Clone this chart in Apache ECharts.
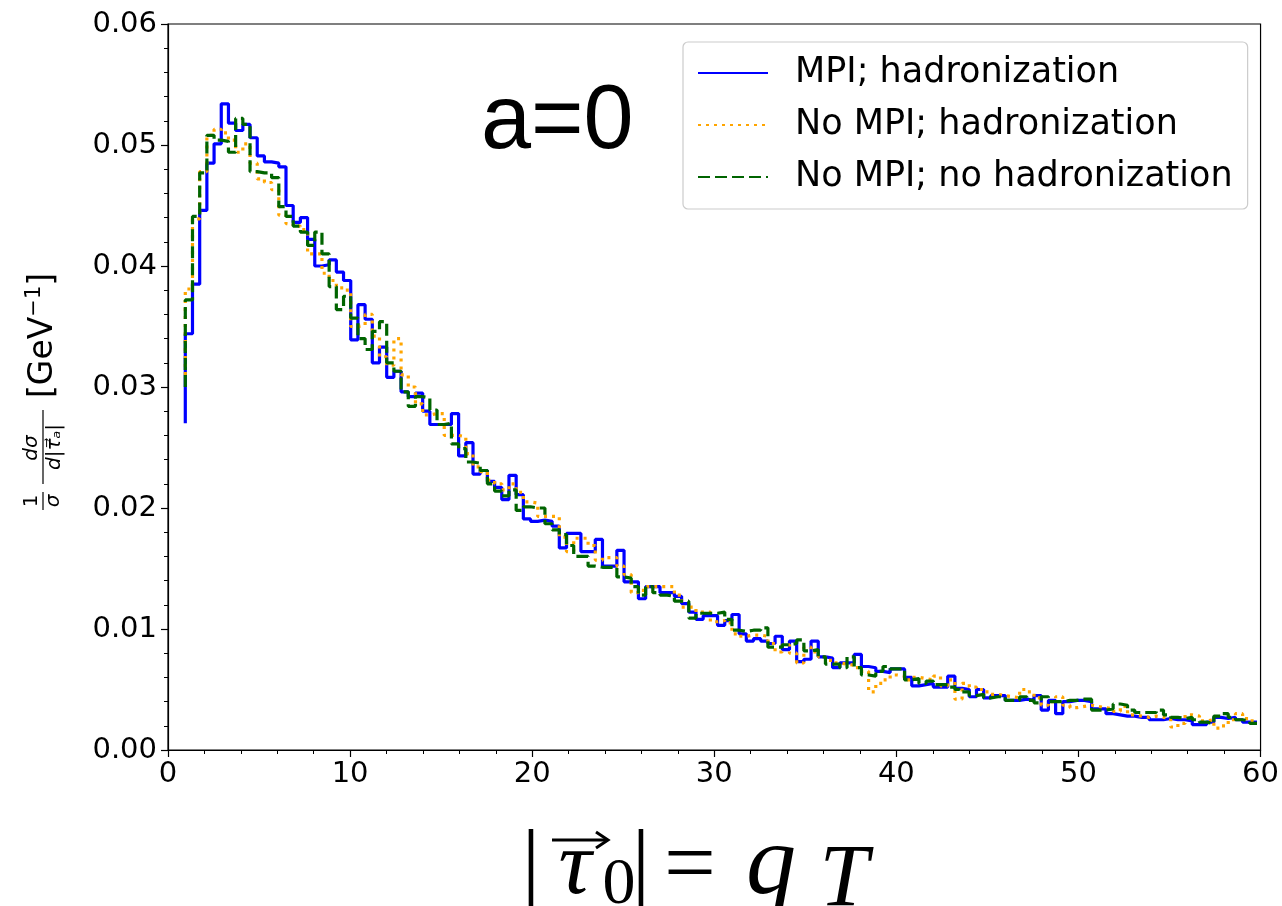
<!DOCTYPE html>
<html>
<head>
<meta charset="utf-8">
<script src="https://cdn.jsdelivr.net/npm/echarts@6/dist/echarts.min.js"></script>
<style>html,body{margin:0;padding:0;background:#fff}#c{width:1282px;height:906px}</style>
</head>
<body>
<div id="c"></div>
<script>
// histogram step positions: first edge and bin width (x in |tau_0| = q_T)
const xStart = 0.95;
const binWidth = 0.395;

const seriesNames = ['MPI; hadronization', 'No MPI; hadronization', 'No MPI; no hadronization'];

const mpiHad = [
0.0270,0.0344,0.0385,0.0446,0.0485,0.0501,0.0534,0.0518,0.0512,0.0517,
0.0506,0.0491,0.0486,0.0485,0.0482,0.0450,0.0436,0.0440,0.0422,0.0400,
0.0401,0.0405,0.0395,0.0388,0.0339,0.0368,0.0356,0.0320,0.0333,0.0308,
0.0313,0.0296,0.0292,0.0295,0.0280,0.0269,0.0269,0.0269,0.0278,0.0243,
0.0254,0.0228,0.0231,0.0222,0.0217,0.0207,0.0227,0.0211,0.0191,0.0189,
0.0190,0.0189,0.0185,0.0167,0.0179,0.0179,0.0164,0.0164,0.0174,0.0152,
0.0152,0.0165,0.0139,0.0139,0.0125,0.0135,0.0135,0.0130,0.0130,0.0127,
0.0121,0.0114,0.0108,0.0111,0.0111,0.0103,0.0107,0.0112,0.0096,0.0090,
0.0092,0.0090,0.0088,0.0094,0.0083,0.0090,0.0073,0.0075,0.0090,0.0077,
0.0076,0.0068,0.0072,0.0072,0.0079,0.0069,0.0068,0.0065,0.0064,0.0067,
0.0067,0.0060,0.0053,0.0054,0.0055,0.0052,0.0052,0.0061,0.0051,0.0050,
0.0044,0.0050,0.0043,0.0045,0.0045,0.0041,0.0041,0.0042,0.0041,0.0045,
0.0033,0.0041,0.0030,0.0040,0.0041,0.0041,0.0040,0.0034,0.0034,0.0030,
0.0029,0.0028,0.0028,0.0027,0.0027,0.0025,0.0025,0.0026,0.0025,0.0025,
0.0024,0.0021,0.0021,0.0023,0.0027,0.0026,0.0027,0.0025,0.0023,0.0023
];

const noMpiHad = [
0.0310,0.0381,0.0439,0.0478,0.0508,0.0513,0.0510,0.0504,0.0494,0.0501,
0.0485,0.0472,0.0469,0.0463,0.0442,0.0435,0.0433,0.0430,0.0410,0.0410,
0.0394,0.0388,0.0382,0.0380,0.0350,0.0351,0.0360,0.0342,0.0325,0.0318,
0.0340,0.0310,0.0300,0.0286,0.0277,0.0278,0.0278,0.0260,0.0260,0.0259,
0.0245,0.0234,0.0230,0.0223,0.0220,0.0215,0.0220,0.0213,0.0205,0.0204,
0.0193,0.0193,0.0193,0.0176,0.0164,0.0175,0.0175,0.0169,0.0157,0.0159,
0.0159,0.0152,0.0145,0.0130,0.0132,0.0135,0.0135,0.0135,0.0135,0.0128,
0.0118,0.0118,0.0114,0.0114,0.0106,0.0107,0.0105,0.0096,0.0094,0.0095,
0.0095,0.0094,0.0088,0.0081,0.0087,0.0080,0.0072,0.0085,0.0081,0.0077,
0.0074,0.0072,0.0071,0.0070,0.0068,0.0065,0.0048,0.0055,0.0058,0.0062,
0.0061,0.0058,0.0060,0.0059,0.0058,0.0061,0.0053,0.0058,0.0042,0.0055,
0.0052,0.0050,0.0048,0.0046,0.0045,0.0044,0.0043,0.0050,0.0048,0.0043,
0.0037,0.0040,0.0044,0.0037,0.0035,0.0036,0.0037,0.0036,0.0035,0.0034,
0.0032,0.0036,0.0029,0.0028,0.0027,0.0028,0.0027,0.0026,0.0019,0.0022,
0.0029,0.0028,0.0024,0.0025,0.0018,0.0020,0.0025,0.0030,0.0026,0.0024
];

const noMpiNoHad = [
0.0300,0.0372,0.0441,0.0477,0.0508,0.0504,0.0503,0.0494,0.0522,0.0517,
0.0478,0.0477,0.0477,0.0473,0.0449,0.0441,0.0433,0.0428,0.0417,0.0428,
0.0410,0.0383,0.0364,0.0375,0.0357,0.0340,0.0331,0.0346,0.0354,0.0320,
0.0313,0.0296,0.0284,0.0292,0.0291,0.0281,0.0269,0.0270,0.0253,0.0249,
0.0238,0.0237,0.0231,0.0220,0.0214,0.0210,0.0215,0.0198,0.0201,0.0200,
0.0200,0.0187,0.0182,0.0178,0.0169,0.0160,0.0160,0.0152,0.0151,0.0151,
0.0151,0.0143,0.0142,0.0135,0.0128,0.0135,0.0130,0.0128,0.0127,0.0123,
0.0123,0.0109,0.0113,0.0113,0.0113,0.0114,0.0108,0.0099,0.0098,0.0099,
0.0099,0.0101,0.0085,0.0085,0.0087,0.0088,0.0091,0.0082,0.0083,0.0077,
0.0071,0.0071,0.0068,0.0077,0.0068,0.0062,0.0061,0.0065,0.0069,0.0067,
0.0067,0.0058,0.0059,0.0055,0.0057,0.0054,0.0054,0.0052,0.0050,0.0048,
0.0045,0.0046,0.0043,0.0044,0.0044,0.0041,0.0041,0.0044,0.0041,0.0039,
0.0044,0.0040,0.0040,0.0041,0.0041,0.0042,0.0042,0.0033,0.0033,0.0034,
0.0038,0.0037,0.0033,0.0031,0.0031,0.0031,0.0033,0.0029,0.0027,0.0026,
0.0027,0.0025,0.0023,0.0022,0.0028,0.0030,0.0027,0.0025,0.0024,0.0022
];

const xTicks = [0, 10, 20, 30, 40, 50, 60];
const yTicks = [0, 0.01, 0.02, 0.03, 0.04, 0.05, 0.06];

function pairs(vals) {
  return vals.map((v, k) => [xStart + k * binWidth, v]);
}

const chart = echarts.init(document.getElementById('c'), null, {renderer: 'canvas'});
const FONT = 'DejaVu Sans';
const SERIF = '"Liberation Serif"';
const axisCommon = {
  axisLine: {show: true, onZero: false, lineStyle: {color: '#000', width: 1.2}},
  axisTick: {show: true, inside: false, length: 7, lineStyle: {color: '#000', width: 1.2}},
  minorTick: {show: true, splitNumber: 5, length: 4, lineStyle: {color: '#000', width: 1}},
  splitLine: {show: false},
  minorSplitLine: {show: false}
};

function mt(x, y, text, font) {
  return {type: 'text', x: x, y: y, style: {text: text, font: font, fill: '#000', align: 'center', verticalAlign: 'middle'}};
}

chart.setOption({
  animation: false,
  backgroundColor: '#fff',
  grid: {left: 168, right: 19, top: 24, bottom: 156, show: true, borderColor: '#000', borderWidth: 1.2, backgroundColor: 'transparent'},
  xAxis: Object.assign({
    type: 'value', min: xTicks[0], max: xTicks[xTicks.length - 1], interval: 10,
    axisLabel: {fontFamily: FONT, fontSize: 29, color: '#000', margin: 10}
  }, axisCommon),
  yAxis: Object.assign({
    type: 'value', min: yTicks[0], max: yTicks[yTicks.length - 1], interval: 0.01,
    axisLabel: {fontFamily: FONT, fontSize: 29, color: '#000', margin: 11, formatter: v => v.toFixed(2)}
  }, axisCommon),
  legend: {
    show: true, orient: 'vertical', left: 683, top: 42,
    padding: [11, 15, 12, 14], itemGap: 12, itemWidth: 70, itemHeight: 14,
    backgroundColor: 'rgba(255,255,255,0.8)', borderColor: '#cccccc', borderWidth: 1.2, borderRadius: 5,
    itemStyle: {opacity: 0},
    textStyle: {fontFamily: FONT, fontSize: 35, color: '#000', lineHeight: 40, padding: [0, 0, 0, 22]},
    data: seriesNames
  },
  series: [
    {name: seriesNames[0], type: 'line', step: 'start', showSymbol: false, symbol: 'none',
     data: pairs(mpiHad), lineStyle: {color: '#0000ff', width: 3.2}, itemStyle: {color: '#0000ff'}},
    {name: seriesNames[1], type: 'line', step: 'start', showSymbol: false, symbol: 'none',
     data: pairs(noMpiHad), lineStyle: {color: '#ffa500', width: 3.2, type: [3, 5]}, itemStyle: {color: '#ffa500'}},
    {name: seriesNames[2], type: 'line', step: 'start', showSymbol: false, symbol: 'none',
     data: pairs(noMpiNoHad), lineStyle: {color: '#006400', width: 3.2, type: [12, 5]}, itemStyle: {color: '#006400'}}
  ],
  graphic: [
    {type: 'text', left: 481, top: 78, style: {text: 'a=0', font: '90px "Liberation Sans"', fill: '#000'}},
    // y-axis label, rotated
    {type: 'group', x: 43, y: 510, rotation: Math.PI / 2, children: [
      mt(9, -11, '1', '20px "DejaVu Sans"'),
      {type: 'line', shape: {x1: 0, y1: 0, x2: 18, y2: 0}, style: {stroke: '#000', lineWidth: 1.2}},
      mt(9, 11, 'σ', 'italic 20px "DejaVu Sans"'),
      mt(62, -11, 'dσ', 'italic 20px "DejaVu Sans"'),
      {type: 'line', shape: {x1: 26, y1: 0, x2: 100, y2: 0}, style: {stroke: '#000', lineWidth: 1.2}},
      mt(63, 12, 'd|τ⃗ₐ|', 'italic 20px "DejaVu Sans"'),
      {type: 'text', x: 112, y: 0, style: {text: '[GeV{s|−1}]', font: '33px "DejaVu Sans"', fill: '#000', align: 'left', verticalAlign: 'middle',
        rich: {s: {fontSize: 21, fontFamily: 'DejaVu Sans', verticalAlign: 'top', lineHeight: 38}}}}
    ]},
    // x-axis label |tau_0| = q_T
    {type: 'group', x: 0, y: 0, children: [
      mt(531, 869, '|', '92px ' + SERIF),
      mt(575, 869, 'τ', 'italic 92px ' + SERIF),
      {type: 'line', shape: {x1: 552, y1: 840, x2: 606, y2: 840}, style: {stroke: '#000', lineWidth: 3}},
      {type: 'polyline', shape: {points: [[596, 832], [608, 840], [596, 848]]}, style: {stroke: '#000', lineWidth: 3, fill: null}},
      mt(619, 886, '0', '66px ' + SERIF),
      mt(641, 869, '|', '92px ' + SERIF),
      mt(690, 869, '=', '92px ' + SERIF),
      mt(771, 867, 'q', 'italic 100px ' + SERIF),
      mt(844, 882, 'T', 'italic 88px ' + SERIF)
    ]}
  ]
});
</script>
</body>
</html>
